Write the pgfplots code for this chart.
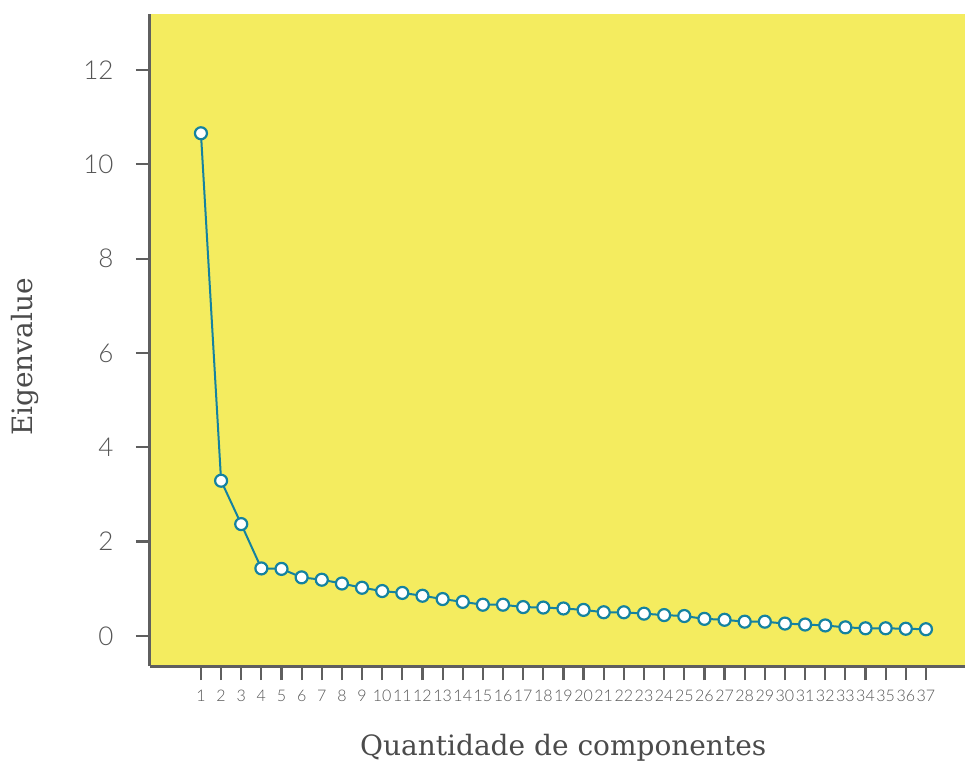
\documentclass[border=0pt]{standalone}
\usepackage{fontspec}
\usepackage{pgfplots}
\pgfplotsset{compat=1.18}
\setmainfont{DejaVu Serif}
\newfontfamily\lato{Lato Light}
\definecolor{bg}{RGB}{244,236,95}
\definecolor{tealc}{RGB}{20,130,160}
\definecolor{axgray}{RGB}{95,95,95}
\definecolor{lblgray}{RGB}{85,85,85}
\definecolor{titgray}{RGB}{75,75,75}
\begin{document}
\begin{tikzpicture}
\begin{axis}[
  at={(0pt,0pt)}, anchor=south west,
  scale only axis, width=815pt, height=652pt,
  xmin=-1.53, xmax=38.94, ymin=-0.64, ymax=13.19,
  axis x line*=bottom, axis y line*=left,
  axis background/.style={fill=bg},
  axis line style={axgray, line width=3pt},
  xtick={1,...,37}, ytick={0,2,...,12},
  tick style={axgray, line width=2.2pt},
  tick align=outside, major tick length=14pt,
  /pgf/number format/assume math mode=true,
  xticklabel style={font=\lato\fontsize{16}{16}\selectfont, text=lblgray, inner sep=2pt, yshift=-8pt},
  yticklabel style={font=\lato\fontsize{26}{26}\selectfont, text=lblgray, xshift=-19pt},
  xlabel={Quantidade de componentes},
  ylabel={Eigenvalue},
  xlabel style={font=\fontsize{28}{28}\selectfont, text=titgray, at={(axis description cs:0.507,-0.1365)}, anchor=base},
  ylabel style={font=\fontsize{28}{28}\selectfont, text=titgray, at={(axis description cs:-0.153,0.474)}, anchor=center},
  clip=false,
]
\addplot[tealc, line width=2pt, mark=*, mark size=6pt, mark options={fill=white, draw=tealc, line width=2.2pt}] coordinates {
(1,10.66) (2,3.29) (3,2.37) (4,1.43) (5,1.42) (6,1.24) (7,1.19) (8,1.11) (9,1.02) (10,0.95)
(11,0.91) (12,0.85) (13,0.78) (14,0.72) (15,0.66) (16,0.66) (17,0.61) (18,0.60) (19,0.58) (20,0.55)
(21,0.50) (22,0.50) (23,0.47) (24,0.44) (25,0.42) (26,0.36) (27,0.34) (28,0.30) (29,0.30) (30,0.26)
(31,0.24) (32,0.22) (33,0.18) (34,0.16) (35,0.16) (36,0.15) (37,0.14)
};
\end{axis}
\pgfresetboundingbox
\path (-150pt,-94pt) rectangle (815pt,666pt);
\end{tikzpicture}
\end{document}
